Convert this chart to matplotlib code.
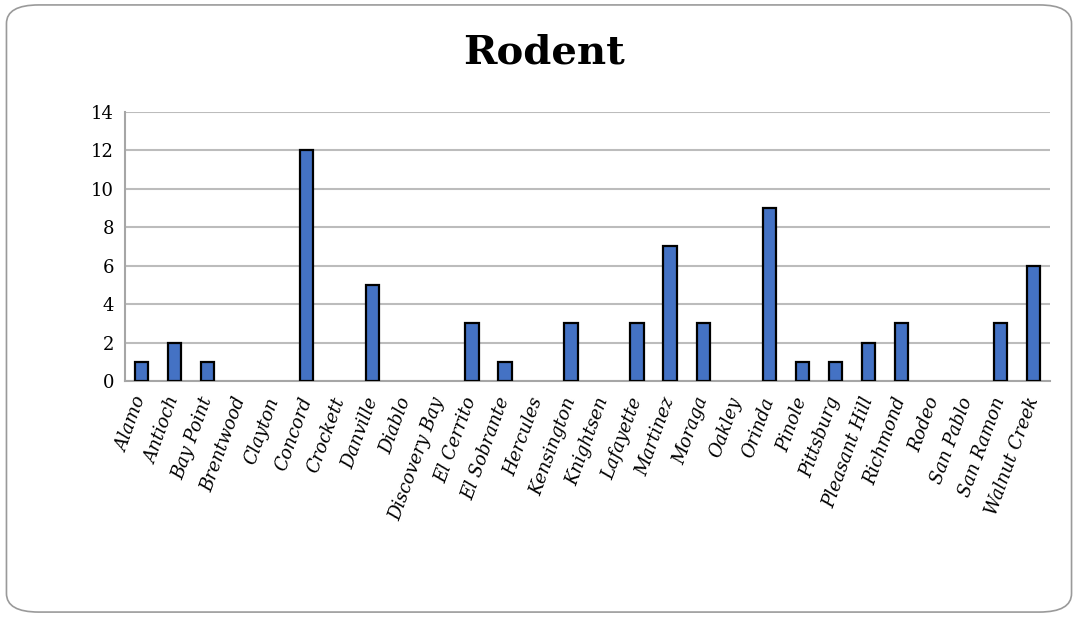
import matplotlib.pyplot as plt
from matplotlib.patches import FancyBboxPatch

towns = ["Alamo", "Antioch", "Bay Point", "Brentwood", "Clayton", "Concord",
         "Crockett", "Danville", "Diablo", "Discovery Bay", "El Cerrito",
         "El Sobrante", "Hercules", "Kensington", "Knightsen", "Lafayette",
         "Martinez", "Moraga", "Oakley", "Orinda", "Pinole", "Pittsburg",
         "Pleasant Hill", "Richmond", "Rodeo", "San Pablo", "San Ramon",
         "Walnut Creek"]
counts = [1, 2, 1, 0, 0, 12, 0, 5, 0, 0, 3, 1, 0, 3, 0, 3, 7, 3, 0, 9,
          1, 1, 2, 3, 0, 0, 3, 6]
yticks = [0, 2, 4, 6, 8, 10, 12, 14]

plt.rcParams['font.family'] = ['DejaVu Serif']

fig = plt.figure(figsize=(10.78, 6.17), dpi=100)
border = FancyBboxPatch((0.006, 0.008), 0.988, 0.984,
                        boxstyle="round,pad=0,rounding_size=0.03",
                        transform=fig.transFigure, fill=False,
                        edgecolor="#9a9a9a", linewidth=1.2)
fig.patches.append(border)

ax = fig.add_axes([0.116, 0.3825, 0.858, 0.436])
x = range(len(towns))
# zero counts get no outline so they disappear like in the original
ax.bar(x, counts, width=0.4, color="#4472C4", edgecolor="black",
       linewidth=[1.6 if c else 0 for c in counts], zorder=3)

ax.set_xlim(-0.5, len(towns) - 0.5)
ax.set_ylim(0, 14)
ax.set_yticks(yticks)
ax.set_yticklabels([str(t) for t in yticks], fontsize=13)
ax.yaxis.grid(True, color="#bcbcbc", linewidth=1.5, zorder=0)
ax.set_xticks(list(x))
ax.set_xticklabels(towns, rotation=70, ha="right", va="center",
                   rotation_mode="anchor", fontsize=13, style="italic")
ax.tick_params(axis="both", length=0, pad=8)
ax.tick_params(axis="x", pad=12)

for side in ["top", "right"]:
    ax.spines[side].set_visible(False)
for side in ["left", "bottom"]:
    ax.spines[side].set_color("#a6a6a6")
    ax.spines[side].set_linewidth(1.5)

fig.text(0.505, 0.915, "Rodent", ha="center", va="center",
         fontsize=29, fontweight="bold")

fig.savefig("out.png", dpi=100)
